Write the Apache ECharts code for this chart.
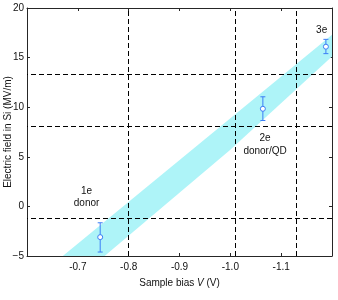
<!DOCTYPE html>
<html>
<head>
<meta charset="utf-8">
<script src="https://cdn.jsdelivr.net/npm/echarts@6/dist/echarts.min.js"></script>
<style>html,body{margin:0;padding:0;background:#fff}#c{width:338px;height:300px}</style>
</head>
<body>
<div id="c"></div>
<script>
// Data
const xTickValues = [-0.7, -0.8, -0.9, -1.0, -1.1];
const yTickValues = [-5, 0, 5, 10, 15, 20];
const pointV = [-0.744, -1.064, -1.188];
const pointE = [-3.1, 9.84, 16.1];
const errLow = [-4.6, 8.66, 15.4];
const errHigh = [-1.65, 11.05, 16.84];
const vLines = [-0.8, -1.009, -1.127];
const hLines = [13.29, 8.08, -1.2];
const bandUpperV = [-0.6704, -1.2];
const bandUpperE = [-5, 17.3];
const bandLowerV = [-0.7527, -1.0, -1.2];
const bandLowerE = [-5, 5.7, 15.1];
const annoText = ['3e', '2e\ndonor/QD', '1e\ndonor'];
const annoV = [-1.1797, -1.0683, -0.7172];
const annoE = [17.72, 6.2, 0.91];

const FONT = 'Liberation Sans';
const BLUE = '#3b7ef6';
const AXIS = '#262626';
const TEXT = '#111';

const chart = echarts.init(document.getElementById('c'), null, {renderer: 'canvas'});

const fmtX = v => {
  const r = Math.round(v * 10) / 10;
  return xTickValues.some(t => Math.abs(t - r) < 1e-9) ? r.toFixed(1) : '';
};
const fmtY = v => (v < 0 ? '\u2212' + Math.abs(v) : String(v));

const upperPts = bandUpperV.map((v, i) => [v, bandUpperE[i]]);
const lowerPts = bandLowerV.map((v, i) => [v, bandLowerE[i]]);

const axisCommon = {
  axisLine: {show: true, onZero: false, lineStyle: {color: AXIS, width: 1}},
  axisTick: {show: true, inside: true, length: 3, lineStyle: {color: AXIS}},
  splitLine: {show: false}
};

chart.setOption({
  animation: false,
  textStyle: {fontFamily: FONT},
  grid: {left: 27, right: 6, top: 8, bottom: 44, containLabel: false, outerBoundsMode: 'none'},
  xAxis: [
    Object.assign({
      type: 'value', min: -1.2, max: -0.6, interval: 0.1, inverse: true, position: 'bottom',
      axisLabel: {formatter: fmtX, color: TEXT, fontSize: 10, fontFamily: FONT, margin: 6},
      name: '{a|Sample bias }{i|V}{a| (V)}', nameLocation: 'middle', nameGap: 22, nameMoveOverlap: false,
      nameTextStyle: {rich: {
        a: {fontSize: 10, fontFamily: FONT, color: TEXT},
        i: {fontSize: 10, fontFamily: FONT, color: TEXT, fontStyle: 'italic'}
      }}
    }, axisCommon),
    Object.assign({
      type: 'value', min: -1.2, max: -0.6, interval: 0.1, inverse: true, position: 'top',
      axisLabel: {show: false}
    }, axisCommon)
  ],
  yAxis: [
    Object.assign({
      type: 'value', min: -5, max: 20, interval: 5, position: 'left',
      axisLabel: {formatter: fmtY, color: TEXT, fontSize: 10, fontFamily: FONT, margin: 3},
      name: 'Electric field in Si (MV/m)', nameLocation: 'middle', nameGap: 14, nameMoveOverlap: false,
      nameTextStyle: {fontSize: 10, fontFamily: FONT, color: TEXT}
    }, axisCommon),
    Object.assign({
      type: 'value', min: -5, max: 20, interval: 5, position: 'right',
      axisLabel: {show: false}
    }, axisCommon)
  ],
  series: [
    {
      type: 'custom', z: 1, silent: true,
      data: [[-0.9, 5]],
      renderItem: (params, api) => {
        const pts = upperPts.map(p => api.coord(p)).concat(lowerPts.slice().reverse().map(p => api.coord(p)));
        return {type: 'polygon', shape: {points: pts}, style: {fill: '#aef4f8', stroke: null}};
      },
      clip: true
    },
    {
      type: 'scatter', z: 2, silent: true, symbolSize: 0, data: [],
      markLine: {
        silent: true, symbol: 'none', animation: false,
        label: {show: false},
        lineStyle: {color: '#000', width: 1, type: [5, 3]},
        data: vLines.map(v => ({xAxis: v})).concat(hLines.map(e => ({yAxis: e})))
      }
    },
    {
      type: 'custom', z: 4, silent: true,
      data: pointV.map((v, i) => [v, errLow[i], errHigh[i]]),
      renderItem: (params, api) => {
        const lo = api.coord([api.value(0), api.value(1)]);
        const hi = api.coord([api.value(0), api.value(2)]);
        const w = 2.5;
        const st = {stroke: BLUE, lineWidth: 1, fill: null};
        return {type: 'group', children: [
          {type: 'line', shape: {x1: lo[0], y1: lo[1], x2: hi[0], y2: hi[1]}, style: st},
          {type: 'line', shape: {x1: lo[0] - w, y1: lo[1], x2: lo[0] + w, y2: lo[1]}, style: st},
          {type: 'line', shape: {x1: hi[0] - w, y1: hi[1], x2: hi[0] + w, y2: hi[1]}, style: st}
        ]};
      }
    },
    {
      type: 'scatter', z: 5, silent: true,
      symbol: 'circle', symbolSize: 5,
      itemStyle: {color: '#fff', borderColor: BLUE, borderWidth: 1, opacity: 1},
      data: pointV.map((v, i) => [v, pointE[i]])
    },
    {
      type: 'scatter', z: 6, silent: true, symbolSize: 0,
      itemStyle: {opacity: 1},
      data: annoV.map((v, i) => ({value: [v, annoE[i]], label: {formatter: annoText[i]}})),
      label: {show: true, position: 'inside', color: TEXT, textBorderWidth: 0, fontSize: 10, fontFamily: FONT, lineHeight: 12.5, align: 'center', verticalAlign: 'middle'}
    }
  ]
});
</script>
</body>
</html>
